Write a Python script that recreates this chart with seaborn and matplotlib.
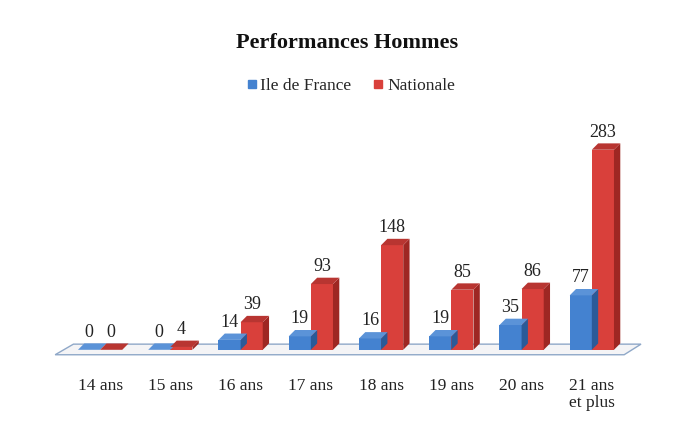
import matplotlib
matplotlib.use("Agg")
import matplotlib.pyplot as plt
from matplotlib.patches import Polygon
from matplotlib.lines import Line2D
import seaborn as sns
import pandas as pd

categories = ["14 ans", "15 ans", "16 ans", "17 ans", "18 ans", "19 ans", "20 ans", "21 ans\net plus"]
ile_de_france = [0, 0, 14, 19, 16, 19, 35, 77]
nationale = [0, 4, 39, 93, 148, 85, 86, 283]
series_names = ["Ile de France", "Nationale"]

df = pd.DataFrame({
    "cat": categories * 2,
    "val": ile_de_france + nationale,
    "serie": [series_names[0]] * len(categories) + [series_names[1]] * len(categories),
})

sns.set_theme(style="white")
plt.rcParams["font.family"] = ["Liberation Serif", "DejaVu Serif"]

front = {"Ile de France": "#4482d0", "Nationale": "#d9403b"}
side = {"Ile de France": "#2b5a98", "Nationale": "#9e2723"}
top = {"Ile de France": "#5b93d8", "Nationale": "#b83531"}

fig = plt.figure(figsize=(6.87, 4.40), dpi=100)
ax = fig.add_axes([0.0946, 0.205, 0.818, 0.482])
sns.barplot(data=df, x="cat", y="val", hue="serie", palette=front, width=0.63,
            ax=ax, legend=False, saturation=1, linewidth=0)
ax.set_xlim(-0.5, len(categories) - 0.5)
ax.set_ylim(0, 300)

# 3D-like depth: computed from each bar's geometry
dx, dy = 0.09, 9
patch_series = [series_names[0]] * len(categories) + [series_names[1]] * len(categories)
for p, s in zip(ax.patches, patch_series):
    x0, w, h = p.get_x(), p.get_width(), p.get_height()
    x1 = x0 + w
    sp = Polygon([(x1, 0), (x1 + dx, dy), (x1 + dx, h + dy), (x1, h)], closed=True,
                 facecolor=side[s], edgecolor="none", zorder=p.get_zorder())
    tp = Polygon([(x0, h), (x0 + dx, h + dy), (x1 + dx, h + dy), (x1, h)], closed=True,
                 facecolor=top[s], edgecolor="none", zorder=p.get_zorder())
    ax.add_patch(sp)
    ax.add_patch(tp)
    ax.annotate(f"{int(h)}", (x0 + w / 2, h + dy), xytext=(0, 2), textcoords="offset points",
                ha="center", va="bottom", fontsize=13, color="#222222")

# floor
floor = Polygon([(-0.64, -7), (-0.38, 8), (7.7, 8), (7.46, -7)], closed=True,
                facecolor="#f4f4f6", edgecolor="#8fa8c8", linewidth=1.0, zorder=0.5,
                clip_on=False)
ax.add_patch(floor)

ax.set_xlabel("")
ax.set_ylabel("")
ax.set_yticks([])
ax.tick_params(axis="x", length=0, labelsize=12.5, pad=20, colors="#222222")
for lbl in ax.get_xticklabels():
    lbl.set_linespacing(1.1)
for sp_ in ax.spines.values():
    sp_.set_visible(False)

fig.text(0.505, 0.902, "Performances Hommes", ha="center", va="center",
         fontsize=16, fontweight="bold", color="#111111")

handles = [Line2D([], [], marker="s", linestyle="none", markersize=6,
                  markerfacecolor=front[n], markeredgecolor=front[n]) for n in series_names]
fig.legend(handles, series_names, loc="center", bbox_to_anchor=(0.51, 0.805), ncol=2,
           frameon=False, fontsize=12.5, handletextpad=0.15, columnspacing=1.2,
           handlelength=0.7)

fig.savefig("out.png", dpi=100, facecolor="white")
